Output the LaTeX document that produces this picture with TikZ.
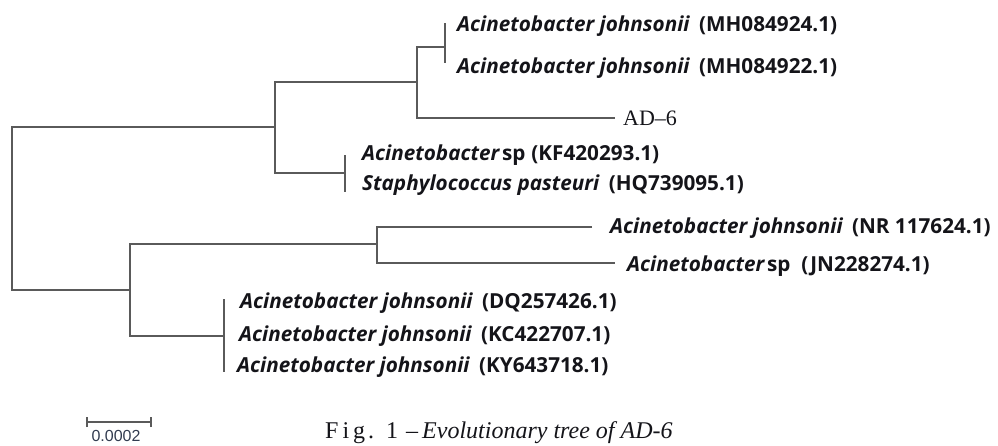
\documentclass[tikz,border=0pt]{standalone}
\usepackage{fontspec}
\setmainfont{Liberation Serif}
\newfontfamily\labfont{Open Sans}
\newfontfamily\barfont{Liberation Sans}
\definecolor{treegray}{RGB}{90,90,90}
\definecolor{labcol}{RGB}{20,20,25}
\definecolor{barcol}{RGB}{50,60,80}
\newcommand\taxname[1]{\textbf{\textit{#1}}}
\newcommand\accno[1]{\textbf{(#1)}}
\begin{document}
\begin{tikzpicture}[x=1pt,y=-1pt,
  branch/.style={draw=treegray,line width=2pt,line join=miter},
  lab/.style={anchor=base west,inner sep=0pt,text=labcol,font=\labfont\fontsize{20.7}{20.7}\selectfont},
  serlab/.style={anchor=base west,inner sep=0pt,text=labcol,font=\fontsize{22}{22}\selectfont}]
\useasboundingbox (0,0) rectangle (998,445);
\clip (0,0) rectangle (998,445);
% internal nodes (attachment points)
\coordinate (R) at (12,208);
\coordinate (A) at (275,127);
\coordinate (B) at (417,82);
\coordinate (P) at (445,47);
\coordinate (Q) at (345,173);
\coordinate (C) at (130,290);
\coordinate (D) at (377,244);
\coordinate (E) at (224,336);
% tips
\coordinate (t1) at (445,23);
\coordinate (t2) at (445,63);
\coordinate (t3) at (615,118);
\coordinate (t4) at (345,155);
\coordinate (t5) at (345,192);
\coordinate (t6) at (592,227);
\coordinate (t7) at (615,263);
\coordinate (t8) at (224,299);
\coordinate (t10) at (224,372);
% branches
\draw[branch] (A) -| (R) |- (C);
\draw[branch] (B) -| (A) |- (Q);
\draw[branch] (P) -| (B) |- (t3);
\draw[branch] (t1) -- (t2);
\draw[branch] (t4) -- (t5);
\draw[branch] (D) -| (C) |- (E);
\draw[branch] (t6) -| (D) |- (t7);
\draw[branch] (t8) -- (t10);
% labels
\node[lab] (l1) at (457,31) {\taxname{Acinetobacter johnsonii}\hspace{9pt}\accno{MH084924.1}};
\node[lab] (l2) at (457,73) {\taxname{Acinetobacter johnsonii}\hspace{9pt}\accno{MH084922.1}};
\node[serlab] (l3) at (623,125) {AD–6};
\node[lab] (l4) at (362,160) {\taxname{Acinetobacter}\hspace{2pt}\textbf{sp}\hspace{6pt}\accno{KF420293.1}};
\node[lab] (l5) at (362,190) {\taxname{Staphylococcus pasteuri}\hspace{9pt}\accno{HQ739095.1}};
\node[lab] (l6) at (610,233) {\taxname{Acinetobacter johnsonii}\hspace{9pt}\accno{NR 117624.1}};
\node[lab] (l7) at (627,271) {\taxname{Acinetobacter}\hspace{2pt}\textbf{sp}\hspace{11pt}\accno{JN228274.1}};
\node[lab] (l8) at (240,308) {\taxname{Acinetobacter johnsonii}\hspace{9pt}\accno{DQ257426.1}};
\node[lab] (l9) at (239,341) {\taxname{Acinetobacter johnsonii}\hspace{9pt}\accno{KC422707.1}};
\node[lab] (l10) at (237,372) {\taxname{Acinetobacter johnsonii}\hspace{9pt}\accno{KY643718.1}};
% scale bar
\coordinate (s1) at (87,422);
\coordinate (s2) at (151,422);
\draw[branch,line width=1.8pt] (s1) -- (s2);
\draw[branch,line width=1.8pt] ([yshift=-5pt]s1) -- ([yshift=5pt]s1);
\draw[branch,line width=1.8pt] ([yshift=-5pt]s2) -- ([yshift=5pt]s2);
\node[anchor=base,inner sep=0pt,text=barcol,font=\barfont\fontsize{16}{16}\selectfont] (sb) at (116,441) {0.0002};
% caption
\node[anchor=base west,inner sep=0pt,text=labcol,font=\fontsize{24}{24}\selectfont] (cap) at (325,438)
  {F\kern4pt i\kern4pt g\kern3pt .\kern12pt 1\kern8pt –\kern4pt \textit{Evolutionary tree of AD-6}};
\end{tikzpicture}
\end{document}
